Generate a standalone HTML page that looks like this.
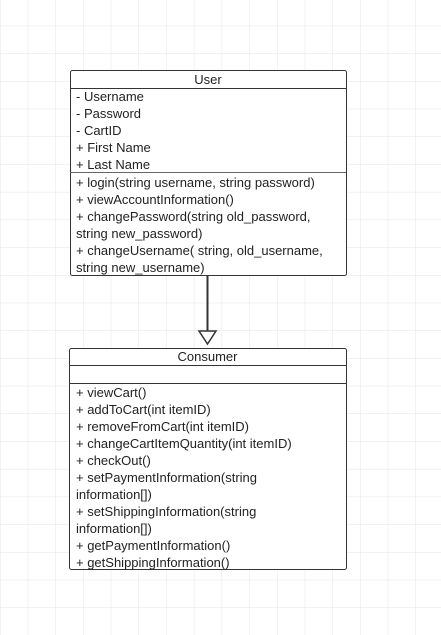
<!DOCTYPE html>
<html><head><style>
body{margin:0;width:441px;height:635px;background:#fff;overflow:hidden;position:relative;font-family:"Liberation Sans",sans-serif;}
.t{position:absolute;font-size:13px;color:#222;white-space:nowrap;line-height:17px;}
</style></head><body>
<svg width="441" height="635" style="position:absolute;left:0;top:0">
<defs><pattern id="g" x="0.5" y="-1.5" width="27.7" height="27.7" patternUnits="userSpaceOnUse"><path d="M27.7 0V27.7M0 27.7H27.7" stroke="#e6e6e6" stroke-width="1" fill="none"/></pattern></defs>
<rect width="441" height="635" fill="url(#g)"/>
<rect x="70.5" y="70.5" width="276" height="205" fill="#fff" stroke="#333" rx="2"/>
<line x1="70" y1="88.5" x2="346" y2="88.5" stroke="#333"/>
<line x1="70" y1="172.5" x2="346" y2="172.5" stroke="#666"/>
<line x1="207.5" y1="276" x2="207.5" y2="331" stroke="#333" stroke-width="2"/>
<polygon points="199,331 216,331 207.5,344" fill="#fff" stroke="#333" stroke-width="1.5"/>
<rect x="69.5" y="348.5" width="277" height="221" fill="#fff" stroke="#333" rx="2"/>
<line x1="69" y1="365.5" x2="346" y2="365.5" stroke="#333"/>
<line x1="69" y1="383.5" x2="346" y2="383.5" stroke="#333"/>
</svg>
<div class="t" style="left:70px;width:276px;text-align:center;top:71px">User</div>
<div class="t" style="left:76px;top:88px">- Username<br>- Password<br>- CartID<br>+ First Name<br>+ Last Name</div>
<div class="t" style="left:76px;top:174px">+ login(string username, string password)<br>+ viewAccountInformation()<br>+ changePassword(string old_password,<br>string new_password)<br>+ changeUsername( string, old_username,<br>string new_username)</div>
<div class="t" style="left:69px;width:277px;text-align:center;top:348px">Consumer</div>
<div class="t" style="left:76px;top:384px">+ viewCart()<br>+ addToCart(int itemID)<br>+ removeFromCart(int itemID)<br>+ changeCartItemQuantity(int itemID)<br>+ checkOut()<br>+ setPaymentInformation(string<br>information[])<br>+ setShippingInformation(string<br>information[])<br>+ getPaymentInformation()<br>+ getShippingInformation()</div>
</body></html>
